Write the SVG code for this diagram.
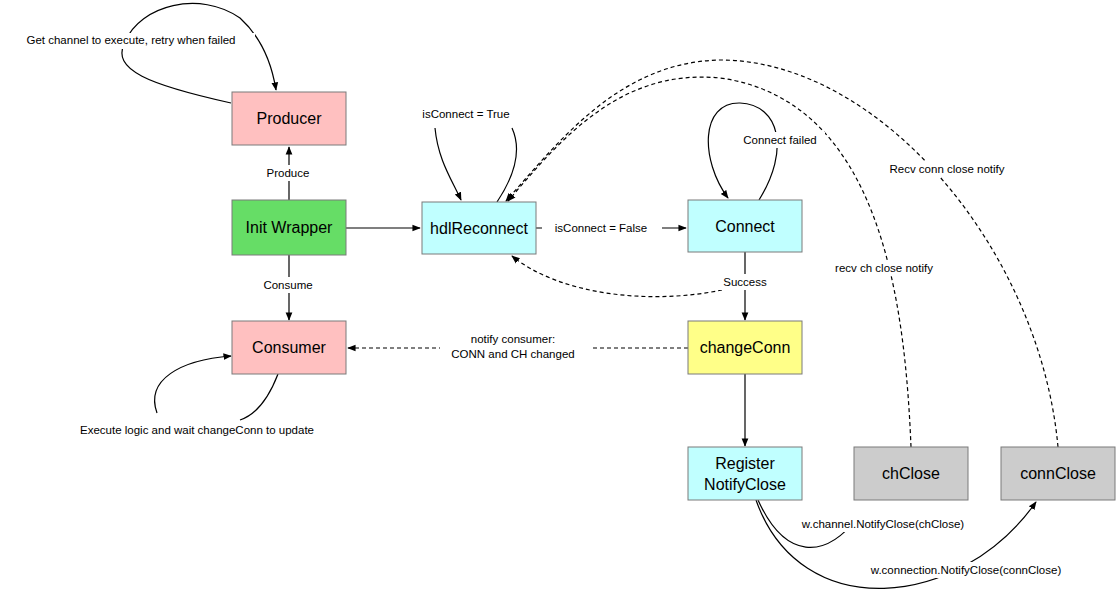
<svg xmlns="http://www.w3.org/2000/svg" width="1117" height="604" viewBox="0 0 1117 604">
<style>
.b{stroke:#7a7a7a;stroke-width:1}
.t{font-family:"Liberation Sans",Arial,sans-serif;font-size:16px;fill:#000;text-anchor:middle}
.l{font-family:"Liberation Sans",Arial,sans-serif;font-size:11.5px;fill:#000;text-anchor:middle}
.c{fill:none;stroke:#000;stroke-width:1.2}
.d{stroke-dasharray:4 3}
.bg{fill:#fff}
</style>
<defs><marker id="a" viewBox="0 0 10 10" refX="9" refY="5" markerWidth="7" markerHeight="7" orient="auto"><path d="M0,1 L10,5 L0,9 Z" fill="#000"/></marker></defs>
<rect width="1117" height="604" fill="#fff"/>
<g id="connectors">
<path class="c" d="M289,200 V147" marker-end="url(#a)"/>
<path class="c" d="M289,255 V320" marker-end="url(#a)"/>
<path class="c" d="M346,228 H420" marker-end="url(#a)"/>
<path class="c" d="M536,228 H686" marker-end="url(#a)"/>
<path class="c" d="M745,252 V320" marker-end="url(#a)"/>
<path class="c" d="M745,374 V446" marker-end="url(#a)"/>
<path class="c" d="M231,103 C150,85 110,70 125,42 C140,5 200,-10 240,18 C262,38 272,65 276,90" marker-end="url(#a)"/>
<path class="c" d="M435,128 C438,160 452,180 461,200" marker-end="url(#a)"/>
<path class="c" d="M497,202 C515,175 522,150 512,128"/>
<path class="c" d="M759,200 C790,150 780,105 740,103 C700,102 700,160 728,198" marker-end="url(#a)"/>
<path class="c d" d="M722,290 C650,305 560,295 512,256" marker-end="url(#a)"/>
<path class="c d" d="M688,348 H348" marker-end="url(#a)"/>
<path class="c d" d="M911,447 C905,300 880,100 720,78 C620,68 560,140 508,201" marker-end="url(#a)"/>
<path class="c d" d="M1058,447 C1040,250 880,60 720,60 C620,62 560,140 506,201" marker-end="url(#a)"/>
<path class="c" d="M758,500 C785,560 825,560 858,517" marker-end="url(#a)"/>
<path class="c" d="M756,500 C800,625 960,610 1036,502" marker-end="url(#a)"/>
<path class="c" d="M278,374 C268,400 255,415 240,420"/>
<path class="c" d="M157,413 C145,380 180,360 231,356" marker-end="url(#a)"/>
</g>
<g id="labels">
<rect class="bg" x="256" y="165" width="64" height="16"/><text class="l" x="288" y="177">Produce</text>
<rect class="bg" x="256" y="277" width="64" height="16"/><text class="l" x="288" y="289">Consume</text>
<rect class="bg" x="542" y="220" width="120" height="16"/><text class="l" x="601" y="232">isConnect = False</text>
<rect class="bg" x="706" y="274" width="78" height="16"/><text class="l" x="745" y="286">Success</text>
<rect class="bg" x="5" y="33" width="250" height="16"/><text class="l" x="131" y="44">Get channel to execute, retry when failed</text>
<text class="l" x="466" y="118">isConnect = True</text>
<rect class="bg" x="735" y="132" width="90" height="16"/><text class="l" x="780" y="144">Connect failed</text>
<rect class="bg" x="440" y="332" width="150" height="32"/><text class="l" x="513" y="343">notify consumer:</text><text class="l" x="513" y="358">CONN and CH changed</text>
<rect class="bg" x="826" y="260" width="116" height="16"/><text class="l" x="884" y="272">recv ch close notify</text>
<rect class="bg" x="880" y="161" width="134" height="16"/><text class="l" x="947" y="173">Recv conn close notify</text>
<rect class="bg" x="790" y="516" width="186" height="16"/><text class="l" x="883" y="528">w.channel.NotifyClose(chClose)</text>
<rect class="bg" x="860" y="562" width="212" height="16"/><text class="l" x="966" y="574">w.connection.NotifyClose(connClose)</text>
<rect class="bg" x="60" y="422" width="276" height="16"/><text class="l" x="197" y="434">Execute logic and wait changeConn to update</text>
</g>
<g id="producer"><rect class="b" x="232" y="92" width="114" height="53" fill="#ffc0c0"/><text class="t" x="289" y="124">Producer</text></g>
<g id="initwrapper"><rect class="b" x="232" y="200" width="114" height="55" fill="#66dd66"/><text class="t" x="289" y="233">Init Wrapper</text></g>
<g id="consumer"><rect class="b" x="232" y="321" width="114" height="53" fill="#ffc0c0"/><text class="t" x="289" y="353">Consumer</text></g>
<g id="hdlreconnect"><rect class="b" x="422" y="202" width="114" height="52" fill="#c0ffff"/><text class="t" x="479" y="234">hdlReconnect</text></g>
<g id="connect"><rect class="b" x="688" y="200" width="114" height="52" fill="#c0ffff"/><text class="t" x="745" y="232">Connect</text></g>
<g id="changeconn"><rect class="b" x="688" y="321" width="114" height="53" fill="#ffff88"/><text class="t" x="745" y="353">changeConn</text></g>
<g id="register"><rect class="b" x="688" y="447" width="114" height="53" fill="#c0ffff"/><text class="t" x="745" y="469">Register</text><text class="t" x="745" y="490">NotifyClose</text></g>
<g id="chclose"><rect class="b" x="854" y="447" width="114" height="53" fill="#cccccc"/><text class="t" x="911" y="479">chClose</text></g>
<g id="connclose"><rect class="b" x="1001" y="447" width="114" height="53" fill="#cccccc"/><text class="t" x="1058" y="479">connClose</text></g>
</svg>
